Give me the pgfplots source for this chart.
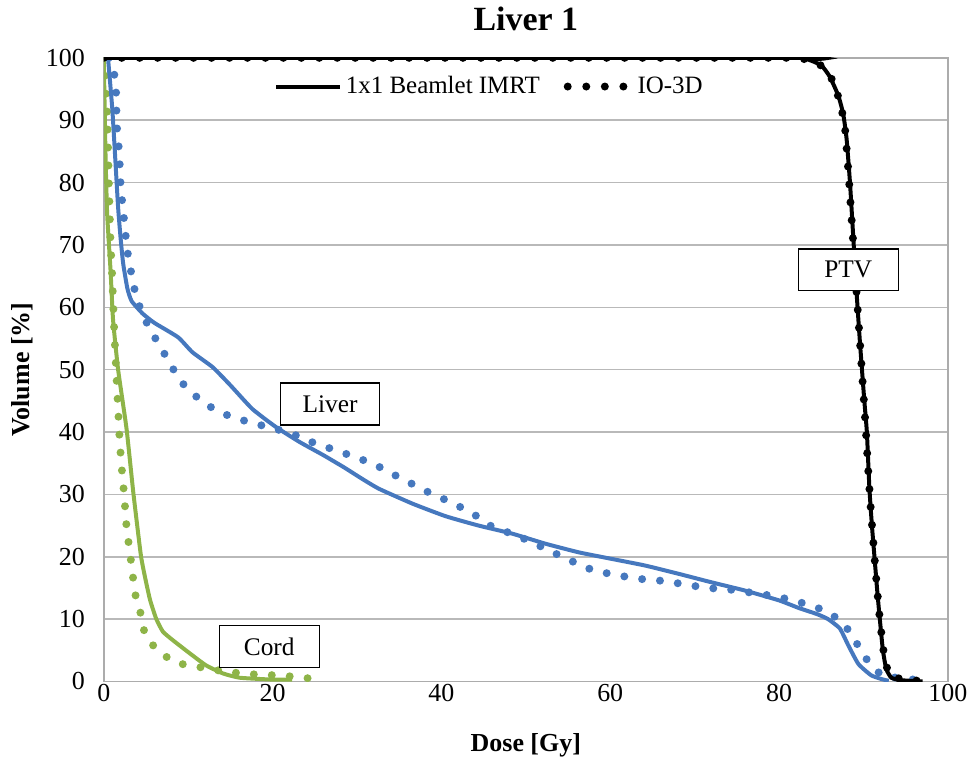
\documentclass[border=0pt]{standalone}
\usepackage{fontspec}
\setmainfont{Liberation Serif}
\usepackage{pgfplots}
\pgfplotsset{compat=1.18}
\definecolor{liverblue}{RGB}{70,120,190}
\definecolor{cordgreen}{RGB}{142,180,72}
\begin{document}
\begin{tikzpicture}
\begin{axis}[
    width=423pt, height=312.5pt, scale only axis,
    xmin=0, xmax=100, ymin=0, ymax=100,
    xtick={0,20,40,60,80,100},
    ytick={0,10,20,30,40,50,60,70,80,90,100},
    major tick length=0pt,
    tick label style={font=\fontsize{13}{15}\selectfont},
    /pgf/number format/assume math mode=true,
    xticklabel style={yshift=2pt},
    yticklabel style={xshift=-6pt},
    ymajorgrids,
    grid style={gray!55, line width=0.8pt},
    axis line style={gray!65, line width=0.8pt},
    xlabel={\textbf{Dose [Gy]}},
    ylabel={\textbf{Volume [\%]}},
    label style={font=\fontsize{13}{15}\selectfont, inner sep=0pt},
    xlabel style={at={(axis description cs:0.5,-0.102)}, anchor=center},
    ylabel style={at={(axis description cs:-0.097,0.5)}, anchor=center},
    title={\textbf{Liver 1}},
    title style={font=\fontsize{17}{20}\selectfont, inner sep=0pt,
        at={(axis description cs:0.5,1.024)}, anchor=south},
    legend columns=2,
    legend style={draw=none, fill=none, at={(axis cs:45.8,95.4)}, anchor=center,
        font=\fontsize{12.5}{14}\selectfont,
        /tikz/every even column/.append style={column sep=10pt}},
    legend image code/.code={\draw[#1] (0pt,0pt) -- (32pt,0pt);},
    solid/.style={line width=2pt},
    dots/.style={line width=4pt, line cap=round, dash pattern=on 0pt off 9pt},
]
\addlegendimage{black, line width=2pt}
\addlegendentry{1x1 Beamlet IMRT}
\addlegendimage{legend image code/.code={\draw[black, line width=4pt, line cap=round,
    dash pattern=on 0pt off 9.3pt] (0pt,0pt) -- (31pt,0pt);}}
\addlegendentry{IO-3D}

% Cord
\addplot[cordgreen, solid, smooth, tension=0.3, forget plot] coordinates {
 (0,100) (0.2,85) (0.4,75) (0.8,66) (1.1,58) (1.7,50) (2.7,40.5) (3.5,30.3)
 (4.4,20.2) (5.0,16) (5.5,13) (6.2,10.1) (7,8) (8.2,6.6) (10.2,4.5) (12.1,2.6)
 (14.1,1.3) (16.1,0.6) (20,0.3) (22.3,0.3)
};
\addplot[cordgreen, dots, forget plot] coordinates {
 (0,100) (0.2,95) (0.4,92) (0.6,80) (0.8,70.4) (1.0,65) (1.2,57.5) (1.4,51.7)
 (1.7,43.7) (1.9,38.2) (2.2,33) (2.4,30.2) (2.7,24.7) (3.2,19.6) (3.7,14.1)
 (4.3,11.4) (4.6,8.7) (5.4,6.4) (6.8,4.5) (8.5,3) (10.4,2.5) (12.3,2.1)
 (14.3,1.6) (16.3,1.3) (18.2,1.1) (20.2,1) (22.3,0.8) (24.3,0.5)
};

% Liver
\addplot[liverblue, solid, smooth, tension=0.3, forget plot] coordinates {
 (0.5,100) (1.0,92) (1.3,85.3) (1.7,76) (2.0,71) (2.3,67) (2.8,63) (3.3,61)
 (4.6,59) (6,57.5) (8.8,55.2) (10.5,52.8) (12.9,50.4) (15,47.5) (17.6,43.7)
 (20.4,40.8) (23.2,38.4) (26,36.3) (28.5,34.3) (30.6,32.5) (32.6,30.9)
 (36.6,28.5) (40.5,26.5) (44.4,25) (48.4,23.7) (52.3,22.1) (56.3,20.7)
 (60,19.7) (64.1,18.6) (68,17.3) (72,15.9) (75.9,14.6) (80,13) (82.3,11.8)
 (84.5,10.8) (85.8,10) (87.2,8.5) (88.2,5.8) (89.4,2.8) (90.9,1) (92.1,0.4) (93,0.1)
};
\addplot[liverblue, dots, forget plot] coordinates {
 (0.6,100) (1.1,98.6) (1.4,96) (1.5,93.3) (1.5,90.6) (1.6,87.9) (1.8,85.3)
 (1.9,82.6) (2.0,79.4) (2.2,76.7) (2.4,74.1) (2.6,71.4) (2.8,69) (3.1,66.6)
 (3.5,63.9) (3.8,61.8) (4.6,58.8) (5.6,56.2) (6.6,53.9) (7.6,51.6) (8.6,49.2)
 (9.8,47) (11.3,45.3) (12.9,43.8) (14.8,42.6) (16.7,41.8) (18.6,41.1)
 (20.6,40.4) (22.4,39.7) (24.2,38.6) (26.1,37.7) (28.1,36.8) (29.9,35.9)
 (31.8,35) (33.5,33.8) (35.3,32.5) (37.1,31.3) (38.8,30.1) (40.7,29)
 (42.5,27.8) (44.2,26.5) (45.9,24.9) (47.7,24) (49.6,23) (51.4,21.9)
 (53.2,20.7) (55,19.6) (56.8,18.4) (58.6,17.6) (60.7,17.1) (62.6,16.6)
 (64.5,16.3) (66.6,16.1) (68.6,15.6) (70.5,15.2) (72.4,14.9) (74.4,14.7)
 (76.4,14.3) (78.4,13.9) (80.4,13.4) (82.2,12.8) (84.2,12) (86,11) (87.6,9.3)
 (88.8,7.2) (89.7,4.8) (90.9,2.6) (92.3,0.8) (94.9,0.5) (97,0.1)
};

% PTV
\addplot[black, solid, smooth, tension=0.3, forget plot] coordinates {
 (0,100) (82,100) (83.5,99.7) (85,98.8) (86,97) (87,94) (87.6,91) (88,87)
 (88.4,80) (88.8,71) (89.2,62) (89.6,54) (90.1,45) (90.4,40) (90.7,31)
 (91.0,25) (91.3,20) (91.6,15) (91.9,10.5) (92.3,5) (92.7,2) (93.3,0.6)
 (94.5,0.2) (97,0)
};
\addplot[black, dots, forget plot] coordinates {
 (0,100) (82,100) (84,99.6) (85.5,98.3) (86.5,96) (87.3,92.5) (87.8,89)
 (88.2,82) (88.6,74) (89,66) (89.4,58) (89.8,50) (90.2,42) (90.6,33)
 (90.9,27) (91.3,20) (91.6,15) (91.9,10.5) (92.3,5.5) (92.7,2.5) (93.2,0.8)
 (94.5,0.4) (96,0.2) (97,0)
};

\node[draw=black, fill=white, line width=0.6pt, minimum width=50pt, minimum height=21pt,
      font=\fontsize{12.7}{14}\selectfont] at (axis cs:88.2,66) {PTV};
\node[draw=black, fill=white, line width=0.6pt, minimum width=50pt, minimum height=21pt,
      font=\fontsize{12.7}{14}\selectfont] at (axis cs:26.8,44.5) {Liver};
\node[draw=black, fill=white, line width=0.6pt, minimum width=50pt, minimum height=21pt,
      font=\fontsize{12.7}{14}\selectfont] at (axis cs:19.6,5.6) {Cord};
\end{axis}
\path ([xshift=-52pt,yshift=-40pt]current axis.south west) rectangle ([xshift=12pt,yshift=29pt]current axis.north east);
\end{tikzpicture}
\end{document}
